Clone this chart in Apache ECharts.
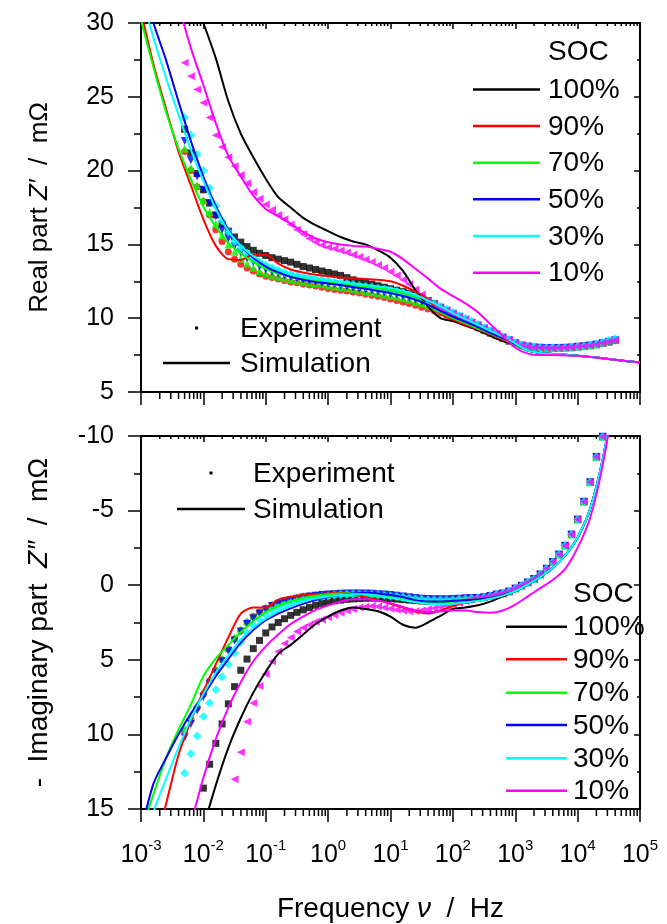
<!DOCTYPE html>
<html><head><meta charset="utf-8">
<script src="https://cdn.jsdelivr.net/npm/echarts@6/dist/echarts.min.js"></script>
<style>html,body{margin:0;padding:0;background:#fff}#c{width:667px;height:924px}</style>
</head><body><div id="c"></div>
<script>
const FONT = '"Liberation Sans", Arial, Helvetica, sans-serif';

// frequency grids (Hz)
const simFreq = [0.001,0.001585,0.002512,0.003981,0.00631,0.01,0.01585,0.02512,0.03981,0.0631,0.1,0.1585,0.2512,0.3981,0.631,1,1.585,2.512,3.981,6.31,10,15.85,25.12,39.81,63.1,100,158.5,251.2,398.1,631,1000,1585,2512,3981,6310,10000,15849,25119,39811,63096,100000];
const expFreq = [0.005012,0.00631,0.007943,0.01,0.01259,0.01585,0.01995,0.02512,0.03162,0.03981,
  0.05012,0.0631,0.07943,0.1,0.1259,0.1585,0.1995,0.2512,0.3162,0.3981,
  0.5012,0.631,0.7943,1,1.259,1.585,1.995,2.512,3.162,3.981,
  5.012,6.31,7.943,10,12.59,15.85,19.95,25.12,31.62,39.81,
  50.12,63.1,79.43,100,125.9,158.5,199.5,251.2,316.2,398.1,
  501.2,631,794.3,1000,1259,1585,1995,2512,3162,3981,
  5012,6310,7943,10000,12589,15849,19953,25119,31623,39811];

const socLabels = ['100%','90%','70%','50%','30%','10%'];

// Real part Z' (mOhm) - simulation
const realSim100 = [48,43,38.5,35,32.2,30.0,27.6,24.7,22.5,20.9,19.45,18.2,17.5,16.8,16.3,15.9,15.5,15.2,15.0,14.6,14.1,13.2,11.9,10.8,10.0,9.8,9.5,9.2,8.8,8.45,8.2,7.8,7.65,7.58,7.52,7.46,7.38,7.28,7.18,7.08,7.0];
const realSim90  = [30.8,27.2,24.2,21.3,19.0,16.7,14.9,14.0,13.95,14.3,14.3,13.7,13.3,13.1,12.95,12.85,12.75,12.7,12.65,12.6,12.5,12.2,11.8,11.3,10.3,9.9,9.55,9.25,8.9,8.55,8.2,7.8,7.65,7.58,7.52,7.46,7.38,7.28,7.18,7.08,7.0];
const realSim70  = [30.2,27.0,24.0,21.5,19.4,17.55,16.2,15.1,14.4,13.8,13.35,13.0,12.8,12.65,12.55,12.45,12.35,12.25,12.15,12.05,11.9,11.7,11.4,10.9,10.4,10.0,9.65,9.3,8.95,8.6,8.2,7.8,7.65,7.58,7.52,7.46,7.38,7.28,7.18,7.08,7.0];
const realSim50  = [33,30.0,27.5,24.7,22.0,19.6,17.6,16.0,14.9,14.1,13.5,13.1,12.8,12.6,12.45,12.35,12.25,12.1,12.0,11.85,11.7,11.5,11.25,10.9,10.5,10.1,9.75,9.4,9.0,8.65,8.25,7.8,7.65,7.58,7.52,7.46,7.38,7.28,7.18,7.08,7.0];
const realSim30  = [32,29.0,26.3,23.8,21.4,19.3,17.4,15.9,14.9,14.2,13.7,13.3,13.0,12.8,12.65,12.55,12.45,12.35,12.25,12.15,12.05,11.85,11.6,11.2,10.8,10.35,9.95,9.55,9.15,8.75,8.3,7.8,7.65,7.58,7.52,7.46,7.38,7.28,7.18,7.08,7.0];
const realSim10  = [44,39,35,31.3,28.3,25.8,23.2,21.0,19.6,18.3,17.4,16.9,16.4,15.85,15.4,15.15,15.0,14.9,14.85,14.7,14.5,14.0,13.35,12.7,12.0,11.5,11.0,10.4,9.6,8.8,8.0,7.6,7.5,7.5,7.48,7.45,7.38,7.28,7.18,7.08,7.0];

// Real part Z' (mOhm) - experiment
const realExp100 = [22.8,21.2,19.8,18.7,17.8,17.0,16.4,15.9,15.5,15.15,
  14.85,14.6,14.4,14.25,14.1,14.0,13.9,13.8,13.65,13.5,
  13.4,13.3,13.2,13.1,13.0,12.9,12.75,12.6,12.5,12.4,
  12.3,12.2,12.1,12.0,11.9,11.8,11.7,11.55,11.4,11.2,
  11.0,10.75,10.5,10.25,10.0,9.8,9.6,9.4,9.2,9.0,
  8.85,8.65,8.45,8.3,8.15,8.08,8.02,8.0,7.98,7.97,
  7.98,8.0,8.02,8.06,8.1,8.15,8.22,8.3,8.4,8.5];
const realExp90 = [21.3,20.0,18.9,17.9,17.0,16.0,15.2,14.5,14.0,13.65,
  13.4,13.2,13.0,12.85,12.75,12.65,12.55,12.45,12.4,12.32,
  12.25,12.18,12.1,12.02,11.95,11.9,11.85,11.78,11.7,11.62,
  11.55,11.48,11.4,11.3,11.2,11.1,11.0,10.88,10.75,10.62,
  10.5,10.35,10.2,10.02,9.85,9.68,9.5,9.32,9.15,8.98,
  8.8,8.62,8.45,8.3,8.15,8.08,8.02,8.0,7.98,7.97,
  7.98,8.0,8.02,8.06,8.1,8.15,8.22,8.3,8.4,8.5];
const realExp70 = [21.5,20.2,19.0,18.0,17.2,16.4,15.6,15.0,14.5,14.05,
  13.7,13.42,13.2,13.03,12.9,12.8,12.7,12.62,12.55,12.47,
  12.4,12.35,12.3,12.22,12.15,12.1,12.05,11.98,11.9,11.82,
  11.75,11.68,11.6,11.52,11.45,11.35,11.25,11.12,11.0,10.85,
  10.7,10.52,10.35,10.18,10.0,9.82,9.65,9.45,9.25,9.08,
  8.9,8.7,8.5,8.3,8.15,8.08,8.02,8.0,7.98,7.97,
  7.98,8.0,8.02,8.06,8.1,8.15,8.22,8.3,8.4,8.5];
const realExp50 = [22.0,20.7,19.6,18.7,17.8,16.9,16.0,15.4,14.9,14.45,
  14.1,13.8,13.5,13.3,13.15,13.02,12.9,12.8,12.7,12.62,
  12.55,12.47,12.4,12.35,12.3,12.22,12.15,12.08,12.0,11.95,
  11.9,11.82,11.75,11.68,11.6,11.5,11.4,11.28,11.15,11.0,
  10.85,10.68,10.5,10.3,10.1,9.9,9.7,9.5,9.3,9.1,
  8.9,8.7,8.5,8.3,8.15,8.08,8.02,8.0,7.98,7.97,
  7.98,8.0,8.02,8.06,8.1,8.15,8.22,8.3,8.4,8.5];
const realExp30 = [23.6,22.4,21.1,20.0,18.8,17.6,16.6,15.85,15.2,14.75,
  14.4,14.08,13.8,13.58,13.4,13.25,13.1,13.0,12.9,12.82,
  12.75,12.68,12.6,12.52,12.45,12.4,12.35,12.28,12.2,12.15,
  12.1,12.02,11.95,11.88,11.8,11.7,11.6,11.48,11.35,11.18,
  11.0,10.8,10.6,10.4,10.2,10.0,9.8,9.58,9.35,9.15,
  8.95,8.75,8.55,8.35,8.2,8.1,8.05,8.02,8.0,8.0,
  8.0,8.02,8.05,8.08,8.12,8.18,8.25,8.35,8.5,8.6];
const realExp10 = [27.3,26.4,25.5,24.6,23.6,22.4,21.6,20.9,20.3,19.7,
  19.15,18.55,18.1,17.7,17.35,17.0,16.7,16.35,16.0,15.7,
  15.4,15.15,14.95,14.8,14.7,14.58,14.45,14.3,14.15,13.98,
  13.8,13.6,13.4,13.15,12.9,12.6,12.3,11.95,11.6,11.2,
  10.9,10.7,10.5,10.3,10.1,9.9,9.7,9.5,9.3,9.1,
  8.9,8.7,8.5,8.3,8.15,8.08,8.02,8.0,7.98,7.97,
  7.98,8.0,8.02,8.06,8.1,8.15,8.22,8.3,8.4,8.5];

// - Imaginary part Z'' (mOhm) - simulation
const imagSim100 = [40,35,30,25,20,16.3,13.4,10.9,8.9,7.2,5.8,4.6,4.0,3.3,2.6,2.1,1.7,1.5,1.6,1.75,2.1,2.65,2.85,2.5,2.05,1.6,1.5,1.35,1.1,0.75,0.4,-0.05,-0.55,-1.15,-2.0,-3.2,-5.1,-8.4,-13,-19,-25];
const imagSim90  = [22,18.0,14.7,11.4,9.1,7.1,5.3,3.5,1.9,1.5,1.5,0.97,0.77,0.65,0.6,0.55,0.5,0.6,0.8,1.0,1.25,1.5,1.75,1.9,1.7,1.4,1.15,1.0,0.85,0.65,0.4,-0.05,-0.55,-1.15,-2.0,-3.2,-5.1,-8.4,-13,-19,-25];
const imagSim70  = [16.5,14.0,11.6,9.7,8.0,6.1,4.9,4.0,3.15,2.4,1.8,1.4,1.1,0.85,0.7,0.6,0.55,0.55,0.6,0.7,0.8,0.95,1.1,1.2,1.2,1.1,1.0,0.95,0.85,0.65,0.4,-0.05,-0.55,-1.15,-2.0,-3.2,-5.1,-8.4,-13,-19,-25];
const imagSim50  = [16.5,13.3,11.6,10.0,8.6,7.4,6.1,4.95,3.85,3.0,2.35,1.9,1.55,1.25,1.0,0.8,0.65,0.55,0.5,0.55,0.65,0.8,1.0,1.1,1.1,1.05,1.0,0.95,0.85,0.65,0.4,-0.05,-0.55,-1.15,-2.0,-3.2,-5.1,-8.4,-13,-19,-25];
const imagSim30  = [18.5,15.2,13.0,10.9,8.95,7.3,5.85,4.7,3.65,2.85,2.25,1.75,1.4,1.1,0.9,0.75,0.65,0.6,0.6,0.7,0.85,1.0,1.15,1.25,1.3,1.25,1.15,1.05,0.9,0.7,0.4,-0.05,-0.55,-1.15,-2.0,-3.2,-5.1,-8.4,-13,-19,-25];
const imagSim10  = [35,28,23,19,16.0,12.9,10.3,8.2,6.5,5.1,4.1,3.3,2.6,2.1,1.65,1.35,1.1,0.95,0.95,1.05,1.2,1.45,1.7,1.8,1.75,1.7,1.7,1.8,1.85,1.7,1.3,0.75,0.2,-0.35,-1.1,-2.5,-4.5,-8.0,-13,-19,-25];

// - Imaginary part Z'' (mOhm) - experiment
const imagExp100 = [null,null,null,13.6,12.0,10.6,9.3,7.95,6.8,5.7,
  4.95,4.25,3.7,3.2,2.8,2.5,2.25,2.02,1.82,1.65,
  1.5,1.35,1.22,1.12,1.05,1.0,0.95,0.92,0.9,0.88,
  0.87,0.87,0.88,0.9,0.93,0.97,1.0,1.03,1.06,1.08,
  1.1,1.1,1.1,1.08,1.05,1.0,0.95,0.85,0.8,0.72,
  0.63,0.55,0.42,0.22,0.03,-0.18,-0.42,-0.72,-1.1,-1.55,
  -2.05,-2.65,-3.4,-4.4,-5.6,-6.9,-8.6,-9.95,null,null];
const imagExp90 = [9.8,9.0,8.2,7.3,6.4,5.7,5.0,4.3,3.6,3.05,
  2.5,2.1,1.8,1.55,1.35,1.2,1.05,0.95,0.85,0.78,
  0.72,0.67,0.63,0.6,0.58,0.56,0.55,0.55,0.55,0.56,
  0.58,0.6,0.63,0.66,0.7,0.75,0.8,0.85,0.9,0.93,
  0.95,0.95,0.95,0.93,0.9,0.88,0.86,0.85,0.8,0.72,
  0.63,0.55,0.42,0.22,0.03,-0.18,-0.42,-0.72,-1.1,-1.55,
  -2.05,-2.65,-3.4,-4.4,-5.6,-6.9,-8.6,-9.95,null,null];
const imagExp70 = [9.6,8.8,8.0,7.15,6.3,5.6,4.9,4.2,3.5,2.95,
  2.4,2.05,1.75,1.5,1.3,1.15,1.0,0.9,0.8,0.73,
  0.68,0.63,0.6,0.57,0.55,0.52,0.5,0.5,0.5,0.51,
  0.52,0.55,0.58,0.61,0.65,0.7,0.75,0.8,0.85,0.88,
  0.9,0.9,0.9,0.89,0.88,0.87,0.86,0.85,0.8,0.72,
  0.63,0.55,0.42,0.22,0.03,-0.18,-0.42,-0.72,-1.1,-1.55,
  -2.05,-2.65,-3.4,-4.4,-5.6,-6.9,-8.6,-9.95,null,null];
const imagExp50 = [10.2,9.3,8.4,7.5,6.6,5.85,5.1,4.4,3.7,3.1,
  2.6,2.22,1.9,1.63,1.4,1.25,1.1,1.0,0.9,0.82,
  0.75,0.7,0.65,0.62,0.6,0.57,0.55,0.55,0.55,0.56,
  0.57,0.6,0.62,0.66,0.7,0.75,0.8,0.85,0.9,0.93,
  0.95,0.95,0.95,0.93,0.9,0.88,0.86,0.85,0.8,0.72,
  0.63,0.55,0.42,0.22,0.03,-0.18,-0.42,-0.72,-1.1,-1.55,
  -2.05,-2.65,-3.4,-4.4,-5.6,-6.9,-8.6,-9.95,null,null];
const imagExp30 = [12.6,11.3,10.1,8.8,7.9,7.0,6.15,5.3,4.55,3.8,
  3.2,2.67,2.3,1.98,1.7,1.5,1.35,1.2,1.1,1.0,
  0.9,0.82,0.75,0.7,0.65,0.62,0.6,0.6,0.6,0.61,
  0.62,0.65,0.68,0.72,0.75,0.8,0.85,0.9,0.95,0.98,
  1.0,1.0,1.0,0.98,0.95,0.92,0.88,0.85,0.8,0.72,
  0.63,0.55,0.42,0.22,0.03,-0.18,-0.42,-0.72,-1.1,-1.55,
  -2.05,-2.65,-3.4,-4.4,-5.6,-6.9,-8.6,-9.95,null,null];
const imagExp10 = [null,null,null,null,null,null,null,null,13.0,11.2,
  9.15,7.9,6.75,5.95,5.1,4.45,3.9,3.5,3.1,2.85,
  2.65,2.45,2.3,2.15,2.0,1.85,1.7,1.6,1.5,1.45,
  1.4,1.42,1.5,1.58,1.65,1.7,1.75,1.75,1.7,1.62,
  1.55,1.48,1.4,1.3,1.2,1.08,0.95,0.85,0.8,0.72,
  0.63,0.55,0.42,0.22,0.03,-0.18,-0.42,-0.72,-1.1,-1.55,
  -2.05,-2.65,-3.4,-4.4,-5.6,-6.9,-8.6,-9.95,null,null];

// axis ticks
const xMin = 0.001, xMax = 100000;
const realTicks = {min: 5, max: 30, interval: 5};
const imagTicks = {min: -10, max: 15, interval: 5};

const colors = ['#000000','#ff0000','#00ff00','#0000ff','#00ffff','#ff00ff'];
const symbols = ['rect','circle','triangle','triangle','diamond','triangle'];
const rotates = [0,0,0,180,0,90];
const sizes = [7,7,8,8,9,8];

const realSims = [realSim100,realSim90,realSim70,realSim50,realSim30,realSim10];
const realExps = [realExp100,realExp90,realExp70,realExp50,realExp30,realExp10];
const imagSims = [imagSim100,imagSim90,imagSim70,imagSim50,imagSim30,imagSim10];
const imagExps = [imagExp100,imagExp90,imagExp70,imagExp50,imagExp30,imagExp10];

// minor tick positions of the logarithmic frequency axis
const minorFreqs = [];
for (let e = -3; e < 5; e++) for (let k = 2; k <= 9; k++) minorFreqs.push(k * Math.pow(10, e));

function pairs(fs, vs) { const out = []; fs.forEach((f, i) => { if (vs[i] != null) out.push([f, vs[i]]); }); return out; }

const chart = echarts.init(document.getElementById('c'), null, {renderer: 'canvas'});

const txt = {color: '#000', fontFamily: FONT};
function xAxisBase(gridIndex, pos, showLabel) {
  return {
    type: 'log', logBase: 10, gridIndex, position: pos, min: xMin, max: xMax,
    axisLine: {show: true, onZero: false, lineStyle: {color: '#000', width: 2}},
    axisTick: {show: true, inside: pos === 'top', length: pos === 'top' ? 6 : 13, lineStyle: {color: '#000', width: 1.5}},
    splitLine: {show: false}, minorTick: {show: false},
    axisLabel: showLabel ? {
      show: true, interval: 0, margin: 29, showMinLabel: true, showMaxLabel: true,
      formatter: v => '{b|10}{s|' + Math.round(Math.log10(v)) + '}',
      rich: {
        b: Object.assign({fontSize: 25, lineHeight: 30, verticalAlign: 'bottom'}, txt),
        s: Object.assign({fontSize: 15, lineHeight: 16, verticalAlign: 'top'}, txt)
      }
    } : {show: false}
  };
}
function yAxisBase(gridIndex, pos, t, inverse, name, nameSize, nameGap) {
  const left = pos === 'left';
  return {
    type: 'value', gridIndex, position: pos, min: t.min, max: t.max, interval: t.interval, inverse: !!inverse,
    axisLine: {show: true, onZero: false, lineStyle: {color: '#000', width: 2}},
    axisTick: {show: true, inside: !left, length: left ? 13 : 6, lineStyle: {color: '#000', width: 1.5}},
    minorTick: {show: true, splitNumber: 2, length: left ? 7 : 3, lineStyle: {color: '#000', width: 1.5}},
    splitLine: {show: false},
    axisLabel: left ? Object.assign({show: true, fontSize: 25, margin: 27}, txt) : {show: false},
    name: left ? name : '', nameLocation: 'middle', nameRotate: 90, nameGap: nameGap || 86,
    nameTextStyle: Object.assign({fontSize: nameSize || 26, rich: {i: Object.assign({fontSize: nameSize || 26, fontStyle: 'italic'}, txt)}}, txt)
  };
}

function minorTickSeries(xIdx, yIdx, yBottom, yTop) {
  return {
    type: 'custom', xAxisIndex: xIdx, yAxisIndex: yIdx, silent: true, clip: false, z: 1,
    data: minorFreqs.map(f => [f, yBottom]),
    renderItem: (params, api) => {
      const f = api.value(0);
      const b = api.coord([f, yBottom]);
      const t = api.coord([f, yTop]);
      return {type: 'group', children: [
        {type: 'line', shape: {x1: b[0], y1: b[1], x2: b[0], y2: b[1] + 7}, style: {stroke: '#000', lineWidth: 1.5}},
        {type: 'line', shape: {x1: t[0], y1: t[1], x2: t[0], y2: t[1] + 3}, style: {stroke: '#000', lineWidth: 1.5}}
      ]};
    }
  };
}

const series = [];
function addPanel(xIdx, yIdx, exps, sims) {
  exps.forEach((vals, i) => series.push({
    type: 'scatter', xAxisIndex: xIdx, yAxisIndex: yIdx, name: 'exp ' + socLabels[i],
    data: pairs(expFreq, vals), symbol: symbols[i], symbolRotate: rotates[i], symbolSize: sizes[i],
    itemStyle: {color: colors[i]}, clip: true, silent: true, z: 2
  }));
  sims.forEach((vals, i) => series.push({
    type: 'line', xAxisIndex: xIdx, yAxisIndex: yIdx, name: 'sim ' + socLabels[i],
    data: pairs(simFreq, vals), showSymbol: false, symbol: 'none', smooth: 0.25,
    lineStyle: {color: colors[i], width: 2}, clip: true, silent: true, z: 3
  }));
}
addPanel(0, 0, realExps, realSims);
addPanel(2, 2, imagExps, imagSims);
series.push(minorTickSeries(0, 0, realTicks.min, realTicks.max));
series.push(minorTickSeries(2, 2, imagTicks.max, imagTicks.min));

// legends drawn as graphics
const graphics = [];
function legendText(x, y, text) {
  graphics.push({type: 'text', x, y, silent: true, style: {text, font: '28px ' + FONT, fill: '#000', align: 'left', verticalAlign: 'middle'}});
}
function legendLine(x1, x2, y, color) {
  graphics.push({type: 'line', silent: true, shape: {x1, y1: y, x2, y2: y}, style: {stroke: color, lineWidth: 2.5}});
}
legendText(548, 52, 'SOC');
[89.5, 126, 162.7, 199.3, 236, 272.7].forEach((y, i) => { legendLine(473, 540, y, colors[i]); legendText(548, y + 1, socLabels[i]); });
graphics.push({type: 'rect', silent: true, shape: {x: 195, y: 326.5, width: 3, height: 3}, style: {fill: '#000'}});
legendText(240, 329, 'Experiment');
legendLine(163, 230, 363, '#000');
legendText(240, 364, 'Simulation');
legendText(573, 594, 'SOC');
[626.7, 659.3, 692.7, 725, 758.3, 790.7].forEach((y, i) => { legendLine(506, 567, y, colors[i]); legendText(573, y + 1, socLabels[i]); });
graphics.push({type: 'rect', silent: true, shape: {x: 209.5, y: 471.5, width: 3, height: 3}, style: {fill: '#000'}});
legendText(253, 474, 'Experiment');
legendLine(177, 245, 509, '#000');
legendText(253, 510, 'Simulation');

const xBottom2 = xAxisBase(1, 'bottom', true);
xBottom2.name = 'Frequency {i|ν}  /  Hz';
xBottom2.nameLocation = 'middle';
xBottom2.nameGap = 86;
xBottom2.nameTextStyle = Object.assign({fontSize: 28, rich: {i: Object.assign({fontSize: 28, fontStyle: 'italic'}, txt)}}, txt);

chart.setOption({
  animation: false,
  backgroundColor: '#fff',
  grid: [
    {left: 141, top: 23, width: 499, height: 369, outerBoundsMode: 'none', containLabel: false},
    {left: 141, top: 436, width: 499, height: 373, outerBoundsMode: 'none', containLabel: false}
  ],
  xAxis: [xAxisBase(0, 'bottom', false), xAxisBase(0, 'top', false), xBottom2, xAxisBase(1, 'top', false)],
  yAxis: [
    yAxisBase(0, 'left', realTicks, false, 'Real part {i|Z′}  /  mΩ', 26, 88),
    yAxisBase(0, 'right', realTicks, false, ''),
    yAxisBase(1, 'left', imagTicks, true, '-  Imaginary part  {i|Z″}  /  mΩ', 28, 88),
    yAxisBase(1, 'right', imagTicks, true, '')
  ],
  series,
  graphic: graphics
});
</script></body></html>
